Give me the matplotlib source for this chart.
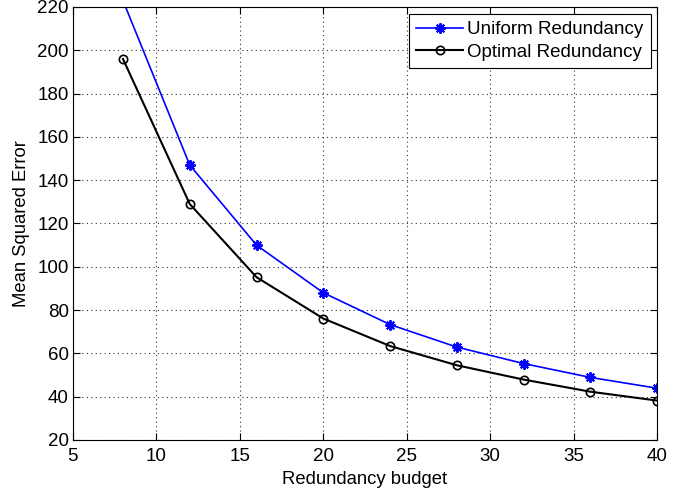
import matplotlib
matplotlib.use('Agg')
import matplotlib.pyplot as plt

plt.rcParams['font.family'] = ['Liberation Sans', 'DejaVu Sans']

budget = [8, 12, 16, 20, 24, 28, 32, 36, 40]
uniform_mse = [223, 147, 110, 88, 73.3, 62.9, 55.3, 48.9, 43.9]
optimal_mse = [196, 129, 95.2, 76.1, 63.4, 54.5, 47.9, 42.3, 38.2]

fig = plt.figure(figsize=(6.94, 4.98), dpi=100)
ax = fig.add_axes([0.105, 0.1165, 0.842, 0.8695])

# asterisk marker, 8 arms
ax.plot(budget, uniform_mse, color='#0000ff', lw=1.2, marker=(8, 2, 0),
        ms=7.5, mec='#0000ff', mew=1.4, label='Uniform Redundancy')
ax.plot(budget, optimal_mse, color='black', lw=1.5, marker='o',
        ms=6, mfc='none', mec='black', mew=1.2, label='Optimal Redundancy')

ax.set_xlim(5, 40)
ax.set_ylim(20, 220)
ax.set_xticks(range(5, 41, 5))
ax.set_yticks(range(20, 221, 20))

ax.grid(True, linestyle=(0, (1, 3)), color='#333333', lw=0.8)
ax.tick_params(direction='in', top=True, right=True, length=5,
               labelsize=13.5, width=0.8, pad=3)
ax.tick_params(axis='x', pad=6)
for s in ax.spines.values():
    s.set_linewidth(0.8)

ax.set_xlabel('Redundancy budget', fontsize=13.3, labelpad=4)
ax.set_ylabel('Mean Squared Error', fontsize=13.3, labelpad=5)

leg = ax.legend(loc='upper right', fontsize=13.5, fancybox=False,
                framealpha=1, edgecolor='black', handlelength=2.5,
                handletextpad=0.2, borderpad=0.4, labelspacing=0.3,
                borderaxespad=0.35)
leg.get_frame().set_linewidth(0.8)

fig.savefig('out.png', dpi=100)
